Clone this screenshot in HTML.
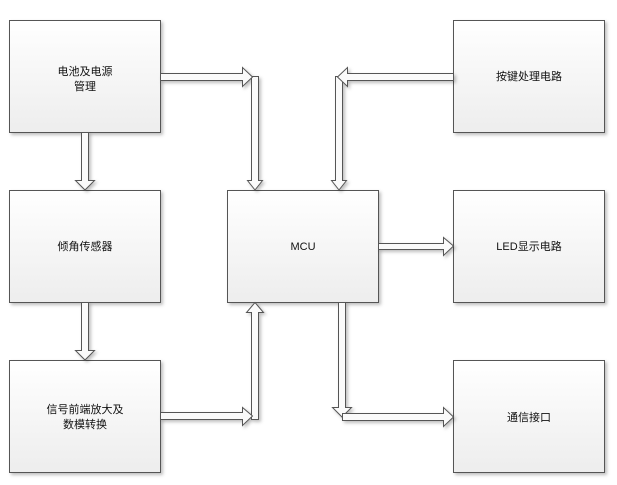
<!DOCTYPE html>
<html><head><meta charset="utf-8"><style>
html,body{margin:0;padding:0;background:#fff;}
svg{display:block;}
text{font-family:"Liberation Sans","Noto Sans CJK SC",sans-serif;font-size:11px;fill:#111;text-anchor:middle;}
</style></head><body>
<svg width="617" height="485" viewBox="0 0 617 485" xmlns="http://www.w3.org/2000/svg">
<defs>
<linearGradient id="g" x1="0" y1="0" x2="0" y2="1"><stop offset="0" stop-color="#ffffff"/><stop offset="1" stop-color="#ededed"/></linearGradient>
<filter id="s" x="-10%" y="-10%" width="130%" height="130%"><feDropShadow dx="2" dy="2" stdDeviation="1.5" flood-color="#000" flood-opacity="0.25"/></filter>
</defs>
<g fill="url(#g)" stroke="#555" stroke-width="1" filter="url(#s)">
<rect x="9.5" y="20.5" width="151" height="112"/>
<rect x="9.5" y="190.5" width="151" height="112"/>
<rect x="9.5" y="360.5" width="151" height="112"/>
<rect x="227.5" y="190.5" width="151" height="112"/>
<rect x="453.5" y="20.5" width="151" height="112"/>
<rect x="453.5" y="190.5" width="151" height="112"/>
<rect x="453.5" y="360.5" width="151" height="112"/>
</g>
<g fill="#fafafa" stroke="#555" stroke-width="1" filter="url(#s)">
<polygon points="251.5,76.5 258.5,76.5 258.5,180.5 262.5,180.5 255,190 247.5,180.5 251.5,180.5"/>
<polygon points="160.5,73.5 242.5,73.5 242.5,67.5 252.5,77 242.5,86.5 242.5,80.5 160.5,80.5"/>
<polygon points="335.5,76.5 342.5,76.5 342.5,180.5 346.5,180.5 339,190 331.5,180.5 335.5,180.5"/>
<polygon points="453.5,73.5 347.5,73.5 347.5,67.5 337.5,77 347.5,86.5 347.5,80.5 453.5,80.5"/>
<polygon points="81.5,132.5 88.5,132.5 88.5,180.5 94.5,180.5 85,190 75.5,180.5 81.5,180.5"/>
<polygon points="81.5,302.5 88.5,302.5 88.5,350.5 94.5,350.5 85,360 75.5,350.5 81.5,350.5"/>
<polygon points="251.5,419.5 258.5,419.5 258.5,312.5 263.5,312.5 255,302.5 246.5,312.5 251.5,312.5"/>
<polygon points="160.5,412.5 242.5,412.5 242.5,407.5 252.5,416 242.5,425.5 242.5,419.5 160.5,419.5"/>
<polygon points="378.5,243.5 443.5,243.5 443.5,237.5 453.5,246 443.5,255.5 443.5,249.5 378.5,249.5"/>
<polygon points="338.5,302.5 345.5,302.5 345.5,407.5 351.5,407.5 342,417 332.5,407.5 338.5,407.5"/>
<polygon points="342.5,413.5 443.5,413.5 443.5,407.5 453.5,417 443.5,426.5 443.5,420.5 342.5,420.5"/>
</g>
<text x="85" y="75">电池及电源</text>
<text x="85" y="90">管理</text>
<text x="85" y="250">倾角传感器</text>
<text x="85" y="413">信号前端放大及</text>
<text x="85" y="428">数模转换</text>
<text x="303" y="250">MCU</text>
<text x="529" y="80">按键处理电路</text>
<text x="529" y="250">LED显示电路</text>
<text x="529" y="421">通信接口</text>
</svg>
</body></html>
